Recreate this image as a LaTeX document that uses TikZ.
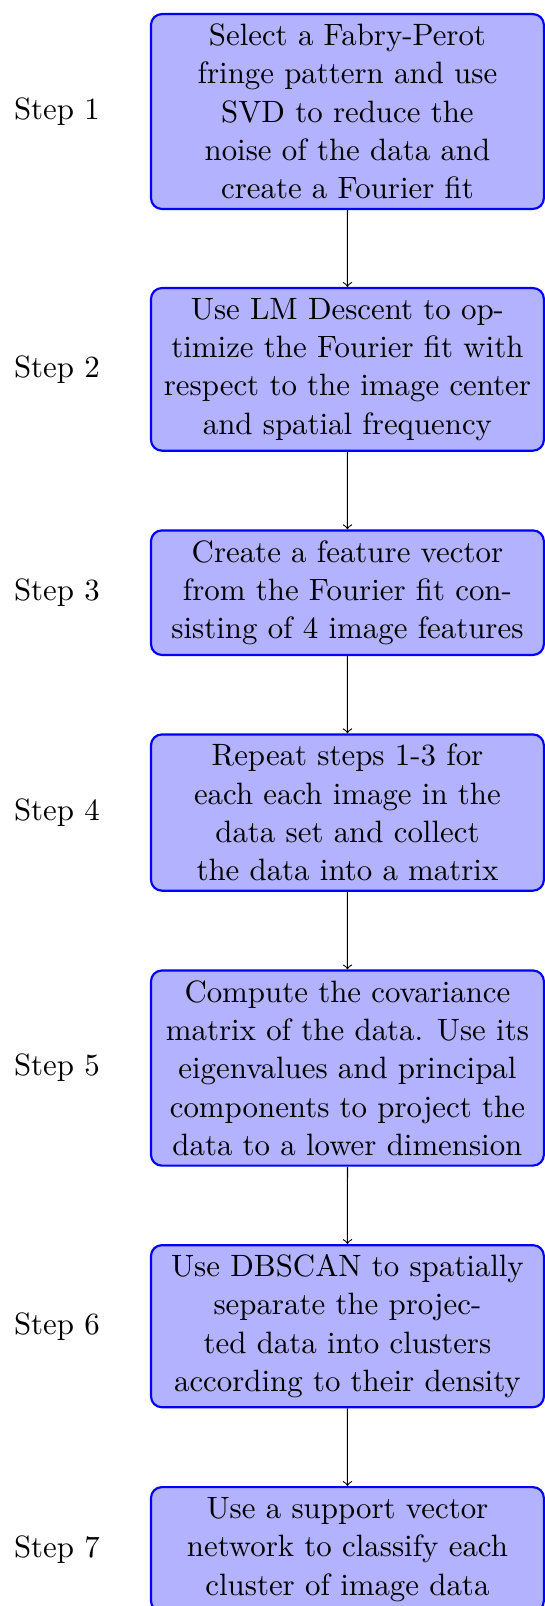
\documentclass[tikz,border=0pt]{standalone}

\tikzset{
  bodyfont/.style={font=\fontsize{10.95}{13.6}\selectfont, scale=1.04, transform shape},
  stepbox/.style={bodyfont, draw=blue, fill=blue!30, line width=0.8pt, rounded corners=4pt,
    align=center, minimum width=139.4pt, inner xsep=1pt, inner ysep=1pt},
  steplabel/.style={bodyfont, inner sep=0pt},
  flow/.style={->, draw=black, line width=0.4pt}
}

\begin{document}
\begin{tikzpicture}
  \useasboundingbox (0,0) rectangle (201.1pt,-592.6pt);

  % the seven processing stages
  \node[stepbox, minimum height=69.13pt] (b1) at (128.2pt,-41.14pt)
    {Select a Fabry-Perot\\fringe pattern and use\\SVD to reduce the\\noise of the data and\\create a Fourier fit};
  \node[stepbox, minimum height=57.69pt] (b2) at (128.2pt,-136.29pt)
    {Use LM Descent to op-\\timize the Fourier fit with\\respect to the image center\\and spatial frequency};
  \node[stepbox, minimum height=44.18pt] (b3) at (128.2pt,-218.69pt)
    {Create a feature vector\\from the Fourier fit con-\\sisting of 4 image features};
  \node[stepbox, minimum height=55.43pt] (b4) at (128.2pt,-299.82pt)
    {Repeat steps 1-3 for\\each each image in the\\data set and collect\\the data into a matrix};
  \node[stepbox, minimum height=69.23pt] (b5) at (128.2pt,-394.10pt)
    {Compute the covariance\\matrix of the data. Use its\\eigenvalues and principal\\components to project the\\data to a lower dimension};
  \node[stepbox, minimum height=57.5pt] (b6) at (128.2pt,-489.35pt)
    {Use DBSCAN to spatially\\separate the projec-\\ted data into clusters\\according to their density};
  \node[stepbox, minimum height=44.18pt] (b7) at (128.2pt,-571.7pt)
    {Use a support vector\\network to classify each\\cluster of image data};

  % step labels in a column to the left of the stages
  \coordinate (lab) at (21pt,0);
  \foreach \i in {1,...,7}
    \node[steplabel] (s\i) at (lab |- b\i) {Step \i};

  % connectors between consecutive stages
  \foreach \i/\j in {1/2,2/3,3/4,4/5,5/6,6/7}
    \draw[flow] (b\i) -- (b\j);
\end{tikzpicture}
\end{document}
